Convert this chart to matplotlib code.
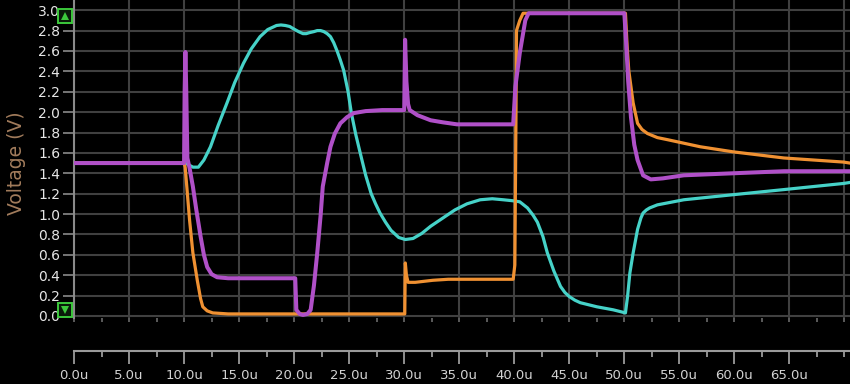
import matplotlib
matplotlib.use('Agg')
import matplotlib.pyplot as plt
from matplotlib.patches import Rectangle, Polygon

# time in micro seconds, voltage in volts
cyan_t = [0.0, 10.0, 10.3, 10.8, 11.3, 11.8, 12.4, 13.1, 13.9, 14.6, 15.4, 16.1, 16.9,
          17.3, 17.6, 18.0, 18.4, 18.8, 19.2, 19.6, 19.9, 20.4, 20.8, 21.1, 21.4, 21.8,
          22.1, 22.4, 22.7, 23.0, 23.3, 23.6, 23.9, 24.2, 24.5, 24.9, 25.2, 25.6, 26.0,
          26.5, 27.0, 27.4, 27.8, 28.3, 28.8, 29.5, 30.1, 30.8, 31.6, 32.4, 33.5,
          34.6, 35.7, 36.9, 38.0, 39.0, 39.9, 40.5, 41.2, 41.7, 42.1, 42.6, 43.0, 43.6,
          44.2, 44.6, 45.0, 45.5, 46.0, 47.5, 49.0, 50.1, 50.3, 50.5, 50.8, 51.2, 51.5,
          51.7, 52.0, 52.3, 53.0, 55.4, 59.9, 64.5, 69.9, 70.5]
cyan_v = [1.50, 1.50, 1.49, 1.46, 1.46, 1.53, 1.66, 1.87, 2.09, 2.29, 2.48, 2.62, 2.74,
          2.78, 2.81, 2.83, 2.85, 2.855, 2.85, 2.84, 2.82, 2.79, 2.77, 2.77, 2.78, 2.79,
          2.80, 2.80, 2.79, 2.77, 2.74, 2.68, 2.60, 2.51, 2.41, 2.20, 1.99, 1.78, 1.60,
          1.38, 1.20, 1.10, 1.01, 0.92, 0.84, 0.77, 0.75, 0.76, 0.81, 0.88, 0.96,
          1.04, 1.10, 1.14, 1.15, 1.14, 1.13, 1.12, 1.06, 0.99, 0.92, 0.78, 0.62, 0.44,
          0.29, 0.23, 0.19, 0.155, 0.13, 0.09, 0.06, 0.03, 0.20, 0.42, 0.62, 0.85, 0.96,
          1.01, 1.04, 1.06, 1.09, 1.14, 1.19, 1.24, 1.30, 1.31]

orange_t = [0.0, 10.0, 10.1, 10.3, 10.5, 10.8, 11.2, 11.5, 11.7, 12.1, 12.6, 14.0, 30.05,
            30.1, 30.2, 30.35, 31.0, 32.6, 34.0, 39.9, 40.05, 40.15, 40.2, 40.5, 40.8,
            50.1, 50.25, 50.4, 50.8, 51.2, 51.6, 52.1, 53.0, 53.9, 56.9, 59.9, 64.5,
            69.9, 70.5]
orange_v = [1.50, 1.50, 1.46, 1.20, 0.94, 0.62, 0.35, 0.17, 0.09, 0.05, 0.03, 0.02, 0.02,
            0.52, 0.40, 0.33, 0.33, 0.35, 0.36, 0.36, 0.50, 1.90, 2.80, 2.90, 2.97,
            2.97, 2.65, 2.41, 2.09, 1.89, 1.83, 1.79, 1.75, 1.73, 1.66, 1.61, 1.55,
            1.51, 1.50]

purple_t = [0.0, 10.0, 10.05, 10.12, 10.2, 10.3, 10.5, 10.8, 11.1, 11.5, 11.8, 12.1, 12.5,
            13.0, 14.0, 20.1, 20.2, 20.5, 20.8, 21.2, 21.5, 21.8, 22.1, 22.4, 22.6, 23.0,
            23.3, 23.7, 24.2, 24.8, 25.4, 26.5, 28.0, 30.0, 30.08, 30.2, 30.35, 30.5,
            31.2, 32.4, 33.5, 34.8, 39.9, 40.1, 40.5, 41.0, 41.3, 50.0, 50.15, 50.35,
            50.6, 50.9, 51.2, 51.7, 52.4, 53.5, 55.4, 59.9, 64.5, 69.9, 70.5]
purple_v = [1.50, 1.50, 2.20, 2.59, 2.20, 1.55, 1.45, 1.27, 1.05, 0.78, 0.60, 0.48, 0.41,
            0.38, 0.37, 0.37, 0.06, 0.02, 0.01, 0.02, 0.06, 0.30, 0.62, 0.98, 1.27, 1.50,
            1.66, 1.79, 1.89, 1.95, 1.99, 2.01, 2.02, 2.02, 2.71, 2.30, 2.08, 2.02,
            1.97, 1.92, 1.90, 1.88, 1.88, 2.25, 2.58, 2.90, 2.97, 2.97, 2.70, 2.30,
            1.95, 1.68, 1.53, 1.38, 1.34, 1.35, 1.38, 1.40, 1.42, 1.42, 1.42]

y_ticks = [0.0, 0.2, 0.4, 0.6, 0.8, 1.0, 1.2, 1.4, 1.6, 1.8, 2.0, 2.2, 2.4, 2.6, 2.8, 3.0]
x_major = [0, 5, 10, 15, 20, 25, 30, 35, 40, 45, 50, 55, 60, 65]
x_minor = [2.5, 7.5, 12.5, 17.5, 22.5, 27.5, 32.5, 37.5, 42.5, 47.5, 52.5, 57.5, 62.5, 67.5, 70]
x_labels = ['%.1fu' % t for t in x_major]

W, H = 850, 384
fig = plt.figure(figsize=(W / 100, H / 100), dpi=100, facecolor='black')

# main scope window
ax = fig.add_axes([74 / W, 1 - 318 / H, (W - 74) / W, 318 / H], facecolor='black')
ax.set_xlim(0, 70.5)
ax.set_ylim(-0.02, 3.1)

for t in x_major + [70]:
    ax.axvline(t, color='#404040', lw=1.5, zorder=1)
for v in y_ticks:
    ax.axhline(v, color='#404040', lw=1.5, zorder=1)

ax.plot(cyan_t, cyan_v, color='#46d2c8', lw=2.3, zorder=3)
ax.plot(orange_t, orange_v, color='#f09132', lw=2.3, zorder=4)
ax.plot(purple_t, purple_v, color='#b050c8', lw=2.9, zorder=5)

for s in ['top', 'right', 'bottom']:
    ax.spines[s].set_visible(False)
ax.spines['left'].set_color('#8a8a8a')
ax.spines['left'].set_linewidth(1.5)

ax.set_yticks(y_ticks)
ax.set_yticklabels(['%.1f' % v for v in y_ticks], color='#e6e6e6', fontsize=10)
ax.tick_params(axis='y', length=8, width=1.2, color='#8a8a8a', pad=2)
ax.set_xticks(x_major + x_minor)
ax.tick_params(axis='x', length=3, width=1.2, color='#6a6a6a', labelbottom=False)

fig.text(17 / W, 1 - 163 / H, 'Voltage (V)', rotation=90, ha='center', va='center',
         color='#a27c5c', fontsize=13.5)

# green cursor boxes at top and bottom of the y axis
green = '#3cc83c'
fig.add_artist(Rectangle((58 / W, 1 - 23 / H), 14 / W, 14 / H, transform=fig.transFigure,
                         facecolor='#0a1a0a', edgecolor=green, lw=1.4))
fig.add_artist(Polygon([(61 / W, 1 - 20 / H), (69 / W, 1 - 20 / H), (65 / W, 1 - 12 / H)],
                       transform=fig.transFigure, facecolor=green, edgecolor='none'))
fig.add_artist(Rectangle((58 / W, 1 - 317 / H), 14 / W, 14 / H, transform=fig.transFigure,
                         facecolor='#0a1a0a', edgecolor=green, lw=1.4))
fig.add_artist(Polygon([(61 / W, 1 - 306 / H), (69 / W, 1 - 306 / H), (65 / W, 1 - 314 / H)],
                       transform=fig.transFigure, facecolor=green, edgecolor='none'))

# time ruler below the window
ax2 = fig.add_axes([74 / W, 1 - 351 / H, (W - 74) / W, 0.001], facecolor='none')
ax2.set_xlim(0, 70.5)
ax2.set_yticks([])
for s in ['top', 'right', 'left']:
    ax2.spines[s].set_visible(False)
ax2.spines['bottom'].set_color('#9a9a9a')
ax2.spines['bottom'].set_linewidth(1.5)
ax2.set_xticks(x_major)
ax2.set_xticklabels(x_labels, color='#d2d2d2', fontsize=9.5)
ax2.set_xticks(x_minor, minor=True)
ax2.tick_params(axis='x', which='major', length=9, width=1.3, color='#9a9a9a', pad=4)
ax2.tick_params(axis='x', which='minor', length=4, width=1.3, color='#9a9a9a')

fig.savefig('out.png', dpi=100, facecolor='black')
